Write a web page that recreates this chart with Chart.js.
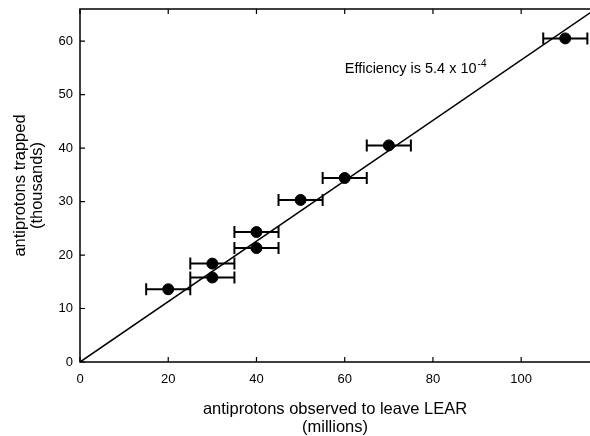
<!DOCTYPE html>
<html>
<head>
<meta charset="utf-8">
<script src="https://cdn.jsdelivr.net/npm/chart.js@4.4.0/dist/chart.umd.min.js"></script>
<style>
body { margin: 0; background: #fff; }
</style>
</head>
<body>
<canvas id="chart" width="590" height="436"></canvas>
<script>
// antiprotons leaving LEAR (millions) vs antiprotons trapped (thousands)
const lear = [20, 30, 30, 40, 40, 50, 60, 70, 110];
const trapped = [13.6, 15.8, 18.4, 21.3, 24.3, 30.3, 34.4, 40.5, 60.5];
const learErr = [5, 5, 5, 5, 5, 5, 5, 5, 5];

// straight-line fit through the origin
const fitX = [0, 116];
const fitY = [0, 65.5];

const xTicks = [0, 20, 40, 60, 80, 100];
const yTicks = [0, 10, 20, 30, 40, 50, 60];

const FONT = '"Liberation Sans", Arial, Helvetica, sans-serif';

// error bars, frame with inward ticks, and the efficiency note
const extras = {
    id: 'extras',
    beforeDatasetsDraw(chart) {
        const { ctx, scales: { x, y } } = chart;
        ctx.save();
        ctx.strokeStyle = '#000';
        ctx.lineWidth = 2;
        lear.forEach((v, i) => {
            const py = y.getPixelForValue(trapped[i]);
            const x0 = x.getPixelForValue(v - learErr[i]);
            const x1 = x.getPixelForValue(v + learErr[i]);
            ctx.beginPath();
            ctx.moveTo(x0, py); ctx.lineTo(x1, py);
            ctx.moveTo(x0, py - 6); ctx.lineTo(x0, py + 6);
            ctx.moveTo(x1, py - 6); ctx.lineTo(x1, py + 6);
            ctx.stroke();
        });
        ctx.restore();
    },
    afterDraw(chart) {
        const { ctx, chartArea: a, scales: { x, y } } = chart;
        ctx.save();
        ctx.strokeStyle = '#000';
        ctx.lineWidth = 1.5;
        ctx.beginPath();
        ctx.moveTo(a.right, a.top); ctx.lineTo(a.left, a.top);
        ctx.lineTo(a.left, a.bottom); ctx.lineTo(a.right, a.bottom);
        ctx.stroke();

        ctx.lineWidth = 1.2;
        ctx.beginPath();
        xTicks.forEach(v => {
            const px = x.getPixelForValue(v);
            ctx.moveTo(px, a.bottom); ctx.lineTo(px, a.bottom - 5);
            ctx.moveTo(px, a.top); ctx.lineTo(px, a.top + 5);
        });
        yTicks.forEach(v => {
            const py = y.getPixelForValue(v);
            ctx.moveTo(a.left, py); ctx.lineTo(a.left + 5, py);
        });
        ctx.stroke();

        // annotation
        ctx.fillStyle = '#000';
        ctx.textBaseline = 'middle';
        ctx.font = '14.5px ' + FONT;
        const label = 'Efficiency is 5.4 x 10';
        const tx = x.getPixelForValue(60);
        const ty = y.getPixelForValue(54.7);
        ctx.fillText(label, tx, ty);
        const w = ctx.measureText(label).width;
        ctx.font = '10px ' + FONT;
        ctx.fillText('-4', tx + w + 1, ty - 5);
        ctx.restore();
    }
};

new Chart(document.getElementById('chart'), {
    type: 'scatter',
    data: {
        datasets: [{
            label: 'fit',
            data: fitX.map((v, i) => ({ x: v, y: fitY[i] })),
            showLine: true,
            borderColor: '#000',
            borderWidth: 1.6,
            pointRadius: 0
        }, {
            label: 'trapped',
            data: lear.map((v, i) => ({ x: v, y: trapped[i] })),
            backgroundColor: '#000',
            borderColor: '#000',
            pointRadius: 5.5,
            pointHoverRadius: 5.5
        }]
    },
    options: {
        responsive: false,
        animation: false,
        layout: { autoPadding: false, padding: { top: 9, right: 0, left: 0, bottom: 0 } },
        plugins: {
            legend: { display: false },
            tooltip: { enabled: false }
        },
        scales: {
            x: {
                type: 'linear',
                min: 0,
                max: 115.6,
                afterBuildTicks: scale => { scale.ticks = xTicks.map(v => ({ value: v })); },
                afterFit: scale => { scale.height = 74; scale.paddingLeft = 0; scale.paddingRight = 0; },
                grid: { display: false, drawTicks: false },
                border: { display: false },
                ticks: { color: '#000', padding: 10, font: { family: FONT, size: 13 } },
                title: {
                    display: true,
                    text: ['antiprotons observed to leave LEAR', '(millions)'],
                    color: '#000',
                    padding: { top: 0, bottom: 0 },
                    font: { family: FONT, size: 16.5, lineHeight: '18px' }
                }
            },
            y: {
                type: 'linear',
                min: 0,
                max: 66,
                afterBuildTicks: scale => { scale.ticks = yTicks.map(v => ({ value: v })); },
                afterFit: scale => { scale.width = 80; scale.paddingTop = 0; scale.paddingBottom = 0; },
                grid: { display: false, drawTicks: false },
                border: { display: false },
                ticks: { color: '#000', padding: 7, font: { family: FONT, size: 13 } },
                title: {
                    display: true,
                    text: ['antiprotons trapped', '(thousands)'],
                    color: '#000',
                    padding: { top: 11.5, bottom: 0 },
                    font: { family: FONT, size: 16.5, lineHeight: '17px' }
                }
            }
        }
    },
    plugins: [extras]
});
</script>
</body>
</html>
